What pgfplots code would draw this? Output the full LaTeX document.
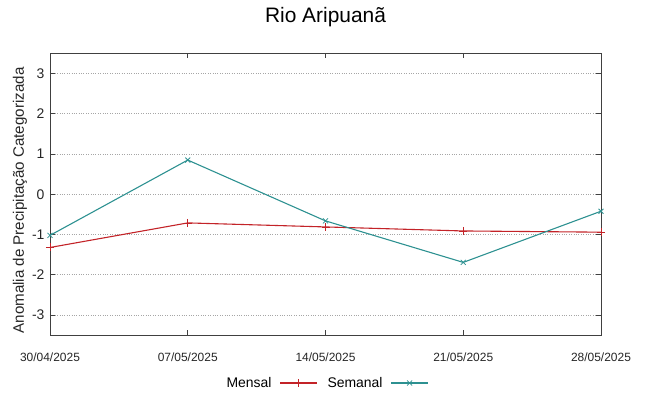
\documentclass[border=0pt]{standalone}
\usepackage{fontspec}
\setmainfont{Liberation Sans}
\usepackage{pgfplots}
\pgfplotsset{compat=1.18}
\definecolor{mensal}{RGB}{195,35,40}
\definecolor{semanal}{RGB}{45,145,145}
\begin{document}
\begin{tikzpicture}[x=1bp,y=1bp]
\useasboundingbox (-50bp,-60.7bp) rectangle (599bp,335.3bp);
\begin{axis}[
  at={(0,0)}, anchor=south west,
  scale only axis, width=551bp, height=282bp,
  xmin=0, xmax=28, ymin=-3.5, ymax=3.5,
  xtick={0,7,14,21,28},
  xticklabels={30/04/2025,07/05/2025,14/05/2025,21/05/2025,28/05/2025},
  ytick={-3,-2,-1,0,1,2,3},
  yticklabels={-3,-2,-1,0,1,2,3},
  tick align=inside,
  major tick length=5bp,
  axis line style={line width=1pt, draw=black!75},
  tick style={line width=0.8pt, draw=black!75},
  ymajorgrids,
  grid style={dotted, line width=0.8pt, gray!70},
  xticklabel style={font=\fontsize{12}{14}\selectfont, color=black!85, yshift=-14bp},
  yticklabel style={font=\fontsize{14}{16}\selectfont, color=black!85, xshift=-2bp},
  ylabel={Anomalia de Precipitação Categorizada},
  ylabel style={at={(axis description cs:-0.0545,0.478)}, anchor=center, font=\fontsize{15.2}{17}\selectfont, color=black!85},
  title={Rio Aripuanã},
  title style={at={(axis description cs:0.5,1)}, anchor=base, yshift=25bp, font=\fontsize{21}{23}\selectfont},
  legend columns=2,
  legend plot pos=right,
  legend style={at={(axis description cs:0.502,0)}, anchor=center, yshift=-47.7bp, draw=none, fill=none,
    font=\fontsize{14}{16}\selectfont, inner sep=0pt,
    /tikz/every odd column/.append style={column sep=6bp},
    /tikz/every even column/.append style={column sep=8bp}},
  legend cell align=left,
  legend image code/.code={\draw[#1,mark=none] (0bp,0bp) -- (37bp,0bp); \path[#1] plot coordinates {(18.5bp,0bp)};},
]
\addplot[color=mensal, line width=1.1pt, mark=+, mark size=4bp, mark options={line width=0.8pt, draw=mensal}] coordinates {
  (0,-1.32) (7,-0.71) (14,-0.81) (21,-0.91) (28,-0.94)
};
\addlegendentry{Mensal}
\addplot[color=semanal, line width=1.1pt, mark=x, mark size=3.5bp, mark options={line width=0.8pt, draw=semanal}] coordinates {
  (0,-1.02) (7,0.85) (14,-0.66) (21,-1.69) (28,-0.42)
};
\addlegendentry{Semanal}
\end{axis}
\end{tikzpicture}
\end{document}
